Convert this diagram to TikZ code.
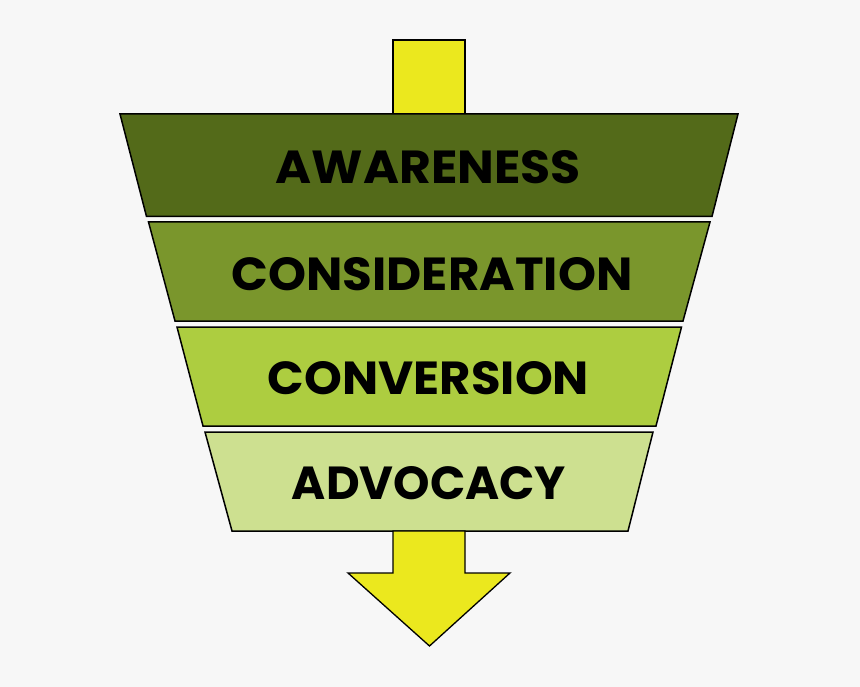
\documentclass[tikz,border=0pt]{standalone}
\usepackage{fontspec}
\setmainfont{Poppins}
\usepackage{graphicx}
\definecolor{bgc}{HTML}{F7F7F7}
\definecolor{aw}{HTML}{536A19}
\definecolor{co}{HTML}{7A962C}
\definecolor{cv}{HTML}{ADCD40}
\definecolor{ad}{HTML}{CDE090}
\definecolor{ye}{HTML}{EBE81E}
\tikzset{
  band/.style={draw=black, line width=1.5pt, line join=miter},
  arrowshape/.style={draw=black, fill=ye, line width=1.3pt, line join=miter},
  lbl/.style={inner sep=0pt, text=black}
}
\begin{document}
\begin{tikzpicture}[x=1pt,y=-1pt]
\fill[bgc] (0,0) rectangle (860,687);
\useasboundingbox (0,0) rectangle (860,687);
% top stem
\draw[arrowshape] (393,40) rectangle (465,114);
% bands
\draw[band, fill=aw] (120,114) -- (738,114) -- (712,216.5) -- (146.5,216.5) -- cycle;
\draw[band, fill=co] (148.5,222) -- (710,222) -- (683,321) -- (175,321) -- cycle;
\draw[band, fill=cv] (177,327) -- (681.5,327) -- (656,426) -- (203,426) -- cycle;
\draw[band, fill=ad] (205,432) -- (653,432) -- (628,531) -- (232,531) -- cycle;
% bottom arrow
\draw[arrowshape] (393,531) -- (465,531) -- (465,573) -- (510,573) -- (429.5,646) -- (348,573) -- (393,573) -- cycle;
% labels
\node[lbl] (t1) at (428.5,167) {\resizebox{305pt}{33pt}{\bfseries AWARENESS}};
\node[lbl] (t2) at (432,274) {\resizebox{401pt}{33pt}{\bfseries CONSIDERATION}};
\node[lbl] (t3) at (428.5,378.5) {\resizebox{321pt}{33pt}{\bfseries CONVERSION}};
\node[lbl] (t4) at (429,483.5) {\resizebox{274pt}{33pt}{\bfseries ADVOCACY}};
\end{tikzpicture}
\end{document}
